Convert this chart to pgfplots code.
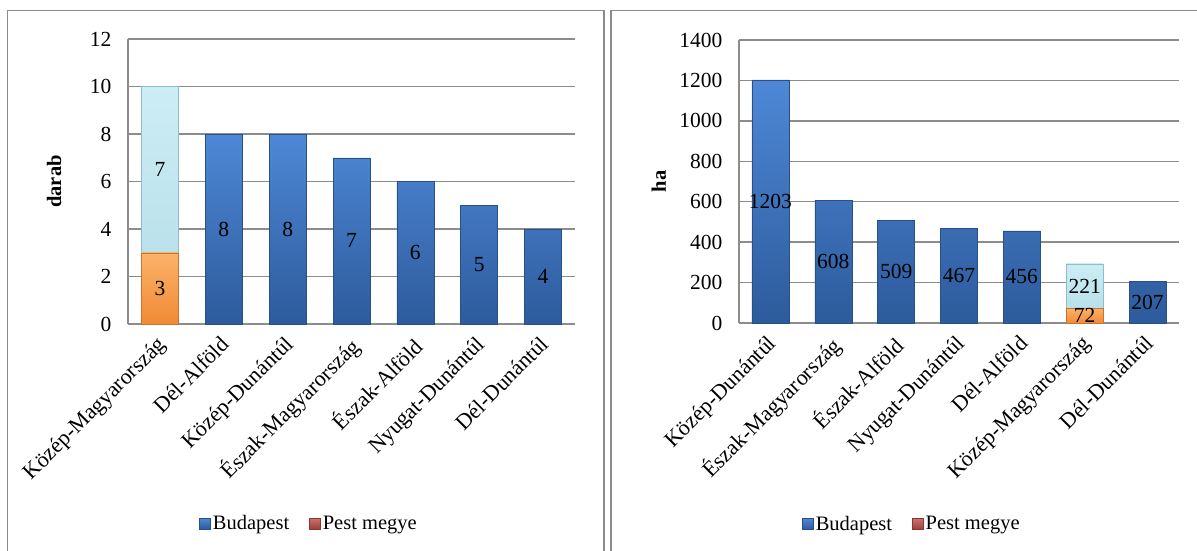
\documentclass[border=0pt]{standalone}
\usepackage{fontspec}
\setmainfont{Liberation Serif}
\usepackage{pgfplots}
\pgfplotsset{compat=1.18}
\usepackage{pgfplotstable}

\definecolor{bluetop}{HTML}{4E88D6}
\definecolor{bluebot}{HTML}{2D5B9C}
\definecolor{blueedge}{HTML}{2A4F86}
\definecolor{oratop}{HTML}{FBB26A}
\definecolor{orabot}{HTML}{F08A35}
\definecolor{oraedge}{HTML}{C8742E}
\definecolor{cyantop}{HTML}{CDEDF4}
\definecolor{cyanbot}{HTML}{B2DCE8}
\definecolor{cyanedge}{HTML}{8FBECB}
\definecolor{legred}{HTML}{C0504D}
\definecolor{legrededge}{HTML}{8E3532}
\definecolor{gridgray}{HTML}{8C8C8C}

% left panel data (darab)
\pgfplotstableread{
x v
1 8
2 8
3 7
4 6
5 5
6 4
}\leftblue
\pgfplotstableread{
x b v
0 0 3
0 3 7
1 0 8
2 0 8
3 0 7
4 0 6
5 0 5
6 0 4
}\leftlabels
% right panel data (ha)
\pgfplotstableread{
x v
0 1203
1 608
2 509
3 467
4 456
6 207
}\rightblue
\pgfplotstableread{
x b v
0 0 1203
1 0 608
2 0 509
3 0 467
4 0 456
5 0 72
5 72 221
6 0 207
}\rightlabels

\newcommand{\fsz}{\fontsize{20.5bp}{24bp}\selectfont}
\newcommand{\tsz}{\fontsize{21.5bp}{25bp}\selectfont}
\newcommand{\xsz}{\fontsize{22bp}{26bp}\selectfont}

\pgfplotsset{
  panel/.style={
    scale only axis, anchor=south west,
    xmin=-0.5, xmax=6.5, ymin=0,
    axis x line*=bottom, axis y line*=left,
    axis line style={draw=gridgray, line width=1.3bp},
    ymajorgrids, grid style={draw=gridgray, line width=1.3bp},
    major tick length=0pt, tick style={draw=none},
    xtick={0,...,6},
    /pgf/number format/assume math mode=true,
    /pgf/number format/1000 sep={},
    tick label style={font=\tsz},
    yticklabel style={xshift=-13bp},
    xticklabel style={font=\xsz, rotate=45, anchor=north east, inner sep=0pt, xshift=-10.4bp, yshift=-4.7bp},
    ylabel style={font=\fsz\bfseries, anchor=center},
    legend style={draw=none, fill=none, font=\fsz, legend columns=2,
      /tikz/every even column/.append style={column sep=18bp}},
    legend image code/.code={\draw[##1, line width=0.6bp] (0bp,-5.5bp) rectangle (11bp,5.5bp);},
    clip=false,
  },
  bluebar/.style={ybar, bar width=37bp, bar shift=0pt, top color=bluetop, bottom color=bluebot, draw=blueedge, line width=0.5bp, forget plot},
  cyanbar/.style={ybar, bar width=37bp, bar shift=0pt, top color=cyantop, bottom color=cyanbot, draw=cyanedge, line width=0.5bp, forget plot},
  orabar/.style={ybar, bar width=37bp, bar shift=0pt, top color=oratop, bottom color=orabot, draw=oraedge, line width=0.5bp, forget plot},
  labplot/.style={draw=none, mark=none, forget plot, nodes near coords, point meta=explicit,
    nodes near coords={\pgfmathprintnumber[1000 sep={}]{\pgfplotspointmeta}},
    every node near coord/.append style={anchor=center, font=\tsz, inner sep=0pt}},
}

\begin{document}
\begin{tikzpicture}[font=\fsz]
% panel frames
\draw[draw=gridgray, line width=1.3bp] (7.5bp,-10.5bp) rectangle (604bp,-560bp);
\draw[draw=gridgray, line width=1.3bp] (611bp,-10.5bp) rectangle (1210bp,-560bp);

\begin{axis}[panel, at={(128bp,-324bp)}, width=447bp, height=285bp,
  ymax=12, ytick={0,2,...,12},
  xticklabels={Közép-Magyarország, Dél-Alföld, Közép-Dunántúl, Észak-Magyarország, Észak-Alföld, Nyugat-Dunántúl, Dél-Dunántúl},
  ylabel={darab}, ylabel style={at={(axis description cs:-0.1655,0.5)}},
  legend style={at={(axis description cs:0.405,-0.70)}, anchor=center},
]
\addlegendimage{top color=bluetop, bottom color=bluebot, draw=blueedge}
\addlegendentry{Budapest}
\addlegendimage{top color=legred!80!white, bottom color=legred!80!black, draw=legrededge}
\addlegendentry{Pest megye}
\addplot[bluebar] table[x=x, y=v] {\leftblue};
\addplot[cyanbar] coordinates {(0,10)};
\addplot[orabar] coordinates {(0,3)};
\addplot[labplot] table[x=x, y expr=\thisrow{b}+0.5*\thisrow{v}, meta=v] {\leftlabels};
\end{axis}

\begin{axis}[panel, at={(739bp,-323bp)}, width=440bp, height=283bp,
  ymax=1400, ytick={0,200,...,1400},
  xticklabels={Közép-Dunántúl, Észak-Magyarország, Észak-Alföld, Nyugat-Dunántúl, Dél-Alföld, Közép-Magyarország, Dél-Dunántúl},
  ylabel={ha}, ylabel style={at={(axis description cs:-0.182,0.5)}},
  legend style={at={(axis description cs:0.393,-0.71)}, anchor=center},
]
\addlegendimage{top color=bluetop, bottom color=bluebot, draw=blueedge}
\addlegendentry{Budapest}
\addlegendimage{top color=legred!80!white, bottom color=legred!80!black, draw=legrededge}
\addlegendentry{Pest megye}
\addplot[bluebar] table[x=x, y=v] {\rightblue};
\addplot[cyanbar] coordinates {(5,293)};
\addplot[orabar] coordinates {(5,72)};
\addplot[labplot] table[x=x, y expr=\thisrow{b}+0.5*\thisrow{v}, meta=v] {\rightlabels};
\end{axis}

\pgfresetboundingbox
\path[use as bounding box] (0,0) rectangle (1197bp,-551bp);
\end{tikzpicture}
\end{document}
